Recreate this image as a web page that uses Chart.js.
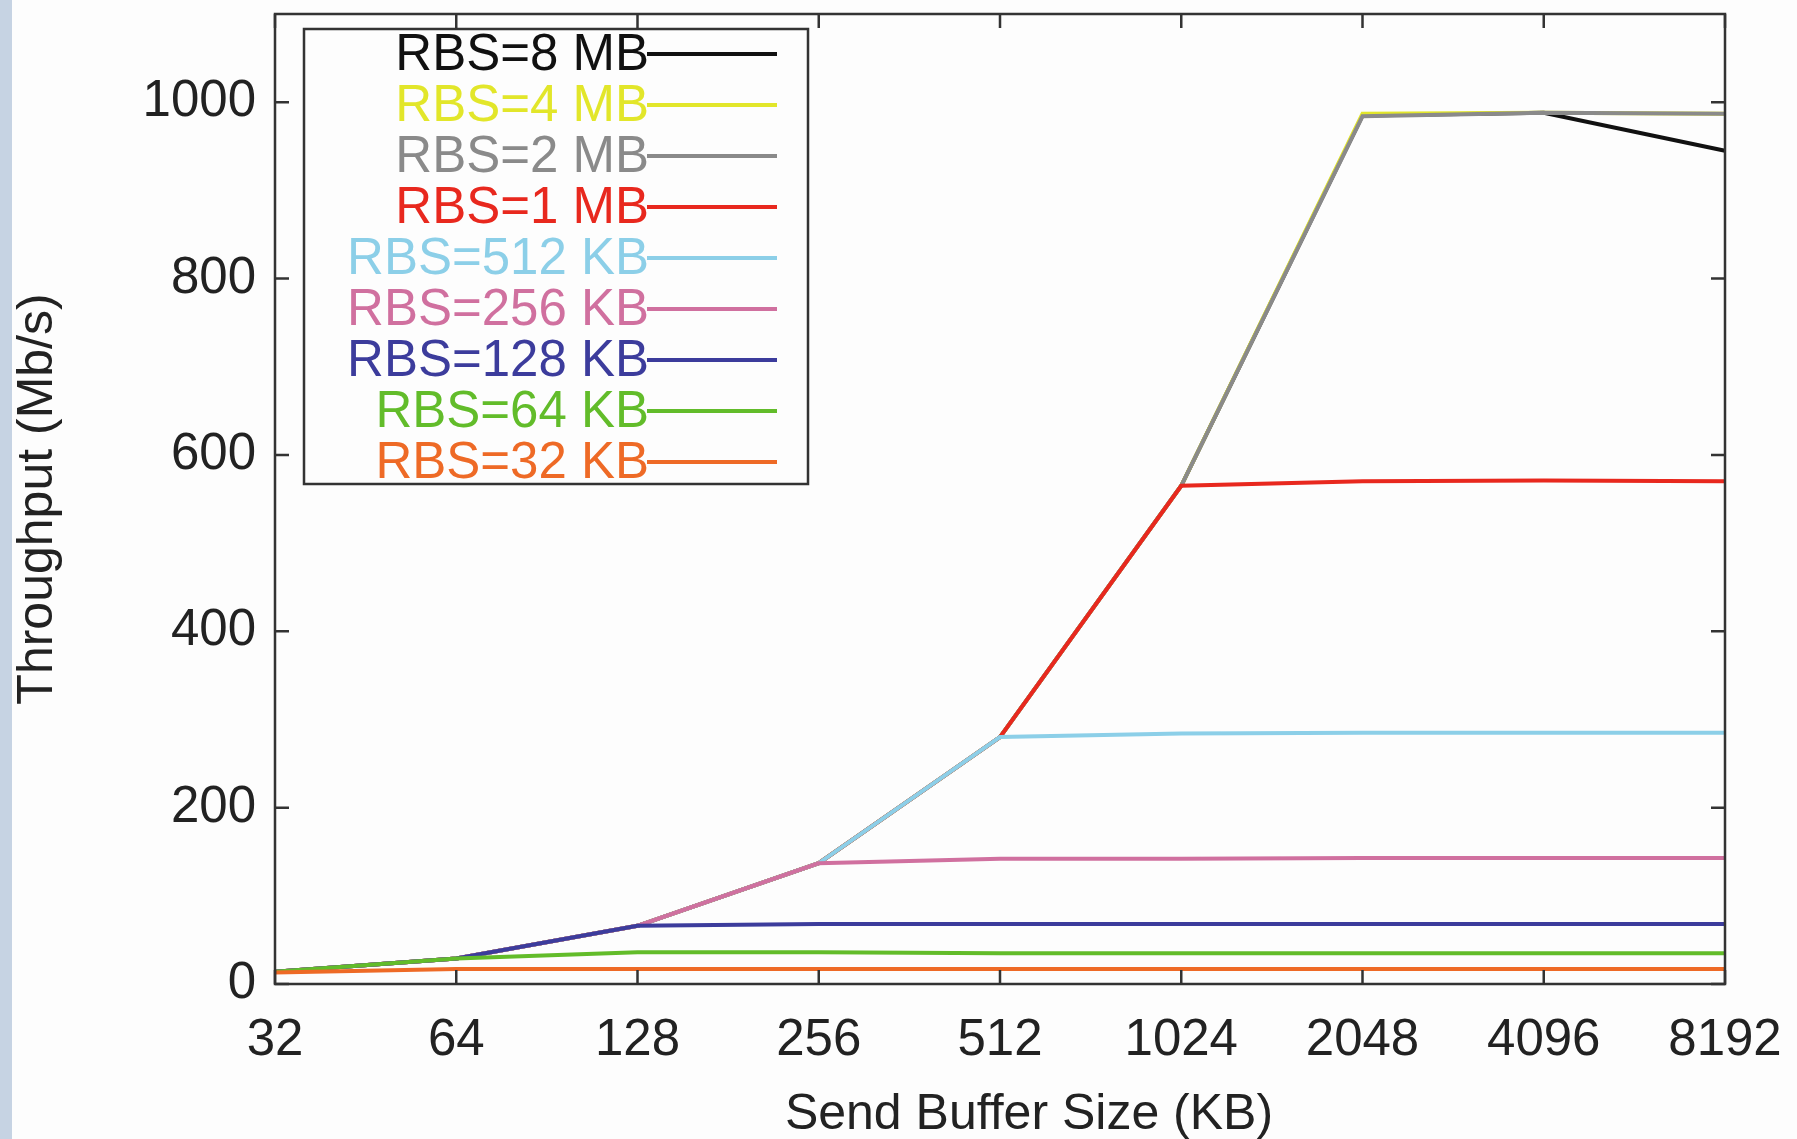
<!DOCTYPE html>
<html>
<head>
<meta charset="utf-8">
<script src="https://cdn.jsdelivr.net/npm/chart.js@4.4.0/dist/chart.umd.min.js"></script>
<style>
    html, body { margin: 0; padding: 0; background: #fdfdfd; }
    #wrap { position: relative; width: 1797px; height: 1139px; }
    #strip { position: absolute; left: 0; top: 0; width: 12px; height: 1139px; background: #c6d3e3; }
    #chart { position: absolute; left: 0; top: 0; }
</style>
</head>
<body>
<div id="wrap">
    <div id="strip"></div>
    <canvas id="chart" width="1797" height="1139"></canvas>
</div>
<script>
// Send buffer sizes (KB), one category per doubling
const sendSizes = ['32', '64', '128', '256', '512', '1024', '2048', '4096', '8192'];
const yTicks = [0, 200, 400, 600, 800, 1000];

// Throughput (Mb/s) per receive buffer size
const rbs8MB   = [14, 29, 66, 137, 280, 565, 985, 988, 945];
const rbs4MB   = [14, 29, 66, 137, 280, 565, 987, 988, 987];
const rbs2MB   = [14, 29, 66, 137, 280, 565, 984, 988, 987];
const rbs1MB   = [14, 29, 66, 137, 280, 565, 570, 571, 570];
const rbs512KB = [14, 29, 66, 137, 280, 284, 285, 285, 285];
const rbs256KB = [14, 29, 66, 137, 142, 142, 143, 143, 143];
const rbs128KB = [14, 29, 66, 68, 68, 68, 68, 68, 68];
const rbs64KB  = [14, 29, 36, 36, 35, 35, 35, 35, 35];
const rbs32KB  = [13, 17, 17, 17, 17, 17, 17, 17, 17];

const seriesLabels = ['RBS=8 MB', 'RBS=4 MB', 'RBS=2 MB', 'RBS=1 MB', 'RBS=512 KB',
    'RBS=256 KB', 'RBS=128 KB', 'RBS=64 KB', 'RBS=32 KB'];
const seriesData = [rbs8MB, rbs4MB, rbs2MB, rbs1MB, rbs512KB, rbs256KB, rbs128KB, rbs64KB, rbs32KB];
const seriesColors = ['#111111', '#e2e62a', '#8a8a8a', '#e8281e', '#8ccfe8',
    '#d0709f', '#3c3c9c', '#62bc2a', '#ee6a26'];

const xTitle = 'Send Buffer Size (KB)';

const FONT = '"Liberation Sans", Arial, Helvetica, sans-serif';
const TICK = 14;

// gnuplot-style frame, mirrored inward ticks, x title and boxed key
const frameAndKey = {
    id: 'frameAndKey',
    afterDraw(chart) {
        const { ctx, chartArea: a, scales: { x, y } } = chart;
        ctx.save();
        ctx.strokeStyle = '#333';
        ctx.lineWidth = 2.5;
        ctx.strokeRect(a.left, a.top, a.right - a.left, a.bottom - a.top);

        ctx.beginPath();
        x.ticks.forEach((t, i) => {
            const px = x.getPixelForTick(i);
            ctx.moveTo(px, a.bottom); ctx.lineTo(px, a.bottom - TICK);
            ctx.moveTo(px, a.top); ctx.lineTo(px, a.top + TICK);
        });
        y.ticks.forEach((t, i) => {
            const py = y.getPixelForTick(i);
            ctx.moveTo(a.left, py); ctx.lineTo(a.left + TICK, py);
            ctx.moveTo(a.right, py); ctx.lineTo(a.right - TICK, py);
        });
        ctx.stroke();

        // x axis title (sits a little right of centre in the original)
        ctx.fillStyle = '#222';
        ctx.font = '50px ' + FONT;
        ctx.textAlign = 'center';
        ctx.textBaseline = 'middle';
        ctx.fillText(xTitle, (a.left + a.right) / 2 + 29, a.bottom + 131);

        // key box
        const boxL = a.left + 29, boxT = a.top + 15, boxW = 504, boxH = 455;
        ctx.fillStyle = '#fdfdfd';
        ctx.fillRect(boxL, boxT, boxW, boxH);
        ctx.strokeRect(boxL, boxT, boxW, boxH);

        ctx.font = '51px ' + FONT;
        ctx.textAlign = 'right';
        chart.data.datasets.forEach((ds, i) => {
            const rowY = boxT + 25 + i * 51;
            ctx.fillStyle = ds.borderColor;
            ctx.fillText(ds.label, boxL + 345, rowY + 2);
            ctx.strokeStyle = ds.borderColor;
            ctx.lineWidth = 4;
            ctx.beginPath();
            ctx.moveTo(boxL + 343, rowY);
            ctx.lineTo(boxL + 473, rowY);
            ctx.stroke();
        });
        ctx.restore();
    }
};

const datasets = seriesData.map((values, i) => ({
    label: seriesLabels[i],
    data: values,
    borderColor: seriesColors[i],
    backgroundColor: seriesColors[i],
    borderWidth: 4,
    pointRadius: 0,
    tension: 0,
    // later series are drawn on top, as in the original plot
    order: seriesData.length - i
}));

new Chart(document.getElementById('chart').getContext('2d'), {
    type: 'line',
    data: { labels: sendSizes, datasets: datasets },
    options: {
        responsive: false,
        animation: false,
        layout: { padding: { left: 0, right: 72, top: 14, bottom: 0 } },
        plugins: {
            legend: { display: false },
            tooltip: { enabled: false }
        },
        scales: {
            x: {
                type: 'category',
                offset: false,
                grid: { display: false },
                border: { display: false },
                ticks: {
                    autoSkip: false,
                    maxRotation: 0,
                    padding: 18,
                    color: '#222',
                    font: { family: FONT, size: 51 }
                },
                title: { display: false },
                afterFit(scale) {
                    scale.height = 155;
                    scale.paddingLeft = 0;
                    scale.paddingRight = 0;
                }
            },
            y: {
                min: 0,
                max: 1100,
                grid: { display: false },
                border: { display: false },
                afterBuildTicks(scale) {
                    scale.ticks = yTicks.map(v => ({ value: v }));
                },
                ticks: {
                    padding: 11,
                    color: '#222',
                    font: { family: FONT, size: 51 },
                    callback: v => String(v)
                },
                title: {
                    display: true,
                    text: 'Throughput (Mb/s)',
                    color: '#222',
                    padding: { top: 13, bottom: 0 },
                    font: { family: FONT, size: 50, lineHeight: 1 }
                },
                afterFit(scale) {
                    scale.width = 275;
                    scale.paddingTop = 0;
                    scale.paddingBottom = 0;
                }
            }
        }
    },
    plugins: [frameAndKey]
});
</script>
</body>
</html>
